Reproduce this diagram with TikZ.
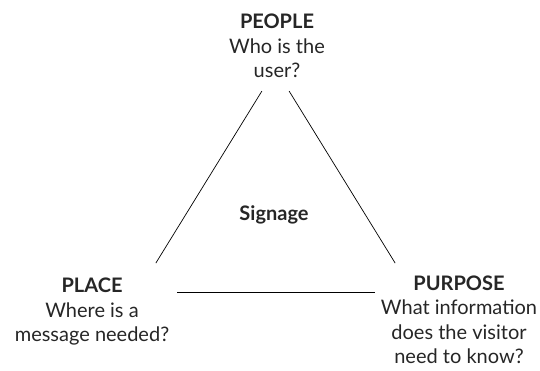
\documentclass[tikz,border=0pt]{standalone}
\usepackage{fontspec}
\setmainfont{Lato}
\usepackage{tikz}
\usetikzlibrary{positioning}

\begin{document}
\begin{tikzpicture}[x=1pt, y=-1pt, line width=0.7pt,
    label/.style={align=center, text=black!85, font=\fontsize{20}{24.5}\selectfont, inner sep=0pt},
    head/.style={font=\fontsize{20}{25}\selectfont\bfseries}]

    \useasboundingbox (0,0) rectangle (540,370);

    % Corners of the triangle
    \coordinate (apex) at (275.5,69);
    \coordinate (left) at (138,292);
    \coordinate (right) at (413,292);

    % Define nodes
    \node[label] (people) at (277,46) {{\bfseries PEOPLE}\\Who is the\\user?};
    \node[label] (place) at (92,312) {{\bfseries PLACE}\\Where is a\\message needed?};
    \node[label] (purpose) at (459,320) {{\bfseries PURPOSE}\\What information\\does the visitor\\need to know?};
    \node[label, head] (signage) at (274,215) {Signage};

    % Draw the sides
    \draw[shorten <=26pt, shorten >=34pt] (apex) -- (left);
    \draw[shorten <=26pt, shorten >=34pt] (apex) -- (right);
    \draw[shorten <=39pt, shorten >=38pt] (left) -- (right);

\end{tikzpicture}
\end{document}
